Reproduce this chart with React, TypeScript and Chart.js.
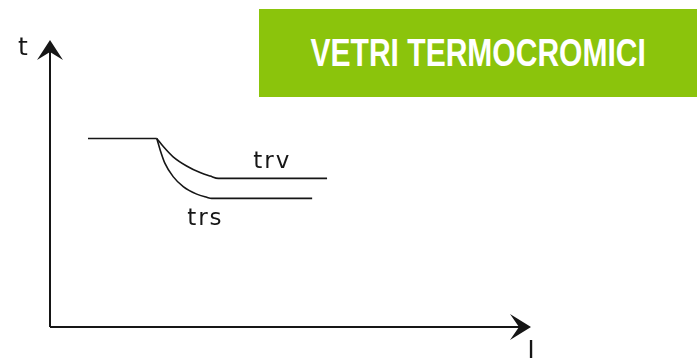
import React, { useEffect, useRef } from "react";
import { Chart, registerables } from "chart.js";

Chart.register(...registerables);

// Shared plateau before the transition
const baseX = [7.9, 22.2];
const baseY = [65.7, 65.7];
// trv curve
const trvX = [22.2, 23.6, 25.6, 28.4, 31.2, 33.3, 35.0, 57.6];
const trvY = [65.7, 62.8, 59.3, 56.1, 53.8, 52.6, 51.8, 51.8];
// trs curve
const trsX = [22.2, 22.9, 23.9, 25.6, 27.7, 30.5, 32.6, 33.6, 54.5];
const trsY = [65.7, 61.7, 57.0, 52.4, 48.9, 46.3, 45.2, 44.8, 44.8];

const seriesLabels = ["trv", "trs"];
const labelPosX = [46.2, 32.3];
const labelPosY = [57.5, 37.6];
const axisLabelY = "t";
const axisLabelX = "I";
const bannerText = "VETRI TERMOCROMICI";

const pts = (xs: number[], ys: number[]) => xs.map((x, i) => ({ x, y: ys[i] }));

const INK = "#161616";

const axesPlugin = {
  id: "axesArrows",
  beforeDatasetsDraw(chart: any) {
    const { ctx, chartArea } = chart;
    const { left, right, top, bottom } = chartArea;
    ctx.save();
    ctx.strokeStyle = INK;
    ctx.fillStyle = INK;
    ctx.lineWidth = 2;
    ctx.beginPath();
    ctx.moveTo(left, bottom);
    ctx.lineTo(left, top + 6);
    ctx.moveTo(left, bottom);
    ctx.lineTo(right - 6, bottom);
    ctx.stroke();
    // up arrow
    ctx.beginPath();
    ctx.moveTo(left, top);
    ctx.lineTo(left - 13, top + 20);
    ctx.lineTo(left, top + 12);
    ctx.lineTo(left + 13, top + 20);
    ctx.closePath();
    ctx.fill();
    // right arrow
    ctx.beginPath();
    ctx.moveTo(right, bottom);
    ctx.lineTo(right - 21, bottom - 13);
    ctx.lineTo(right - 12, bottom);
    ctx.lineTo(right - 21, bottom + 13);
    ctx.closePath();
    ctx.fill();
    // axis labels
    ctx.font = '25px "DejaVu Sans"';
    ctx.textBaseline = "alphabetic";
    ctx.textAlign = "center";
    ctx.fillText(axisLabelY, left - 27, top + 15);
    ctx.font = '24px "DejaVu Sans"';
    ctx.textBaseline = "top";
    ctx.fillText(axisLabelX, right, bottom + 13);
    // series labels
    const xs = chart.scales.x;
    const ys = chart.scales.y;
    ctx.font = '23px "DejaVu Sans"';
    (ctx as any).letterSpacing = "2px";
    ctx.textBaseline = "middle";
    ctx.textAlign = "center";
    seriesLabels.forEach((s, i) => {
      ctx.fillText(s, xs.getPixelForValue(labelPosX[i]), ys.getPixelForValue(labelPosY[i]));
    });
    ctx.restore();
  },
};

export default function App() {
  const ref = useRef<HTMLCanvasElement | null>(null);
  useEffect(() => {
    document.body.style.margin = "0";
    const c = ref.current!;
    const line = { borderColor: INK, borderWidth: 1.6, pointRadius: 0, fill: false, cubicInterpolationMode: "monotone" as const };
    const chart = new Chart(c, {
      type: "line",
      data: {
        datasets: [
          { label: "base", data: pts(baseX, baseY), ...line },
          { label: seriesLabels[0], data: pts(trvX, trvY), ...line },
          { label: seriesLabels[1], data: pts(trsX, trsY), ...line },
        ],
      },
      options: {
        animation: false,
        responsive: false,
        layout: { padding: { left: 50, right: 166, top: 40, bottom: 32 } },
        plugins: { legend: { display: false }, title: { display: false }, tooltip: { enabled: false } },
        scales: {
          x: { type: "linear", min: 0, max: 100, display: false },
          y: { type: "linear", min: 0, max: 100, display: false },
        },
      },
      plugins: [axesPlugin],
    });
    return () => chart.destroy();
  }, []);
  return (
    <div style={{ position: "relative", width: 697, height: 359, background: "#fff", overflow: "hidden" }}>
      <canvas ref={ref} width={697} height={359} style={{ position: "absolute", left: 0, top: 0, width: 697, height: 359 }} />
      <div
        style={{
          position: "absolute",
          left: 259,
          top: 9,
          width: 438,
          height: 88,
          background: "#8bc40c",
          display: "flex",
          alignItems: "center",
          justifyContent: "center",
        }}
      >
        <span
          style={{
            color: "#fff",
            fontFamily: '"Liberation Sans", Arial, sans-serif',
            fontWeight: 700,
            fontSize: 38,
            transform: "scaleX(0.79)",
            whiteSpace: "nowrap",
            display: "inline-block",
            lineHeight: 1,
          }}
        >
          {bannerText}
        </span>
      </div>
    </div>
  );
}
